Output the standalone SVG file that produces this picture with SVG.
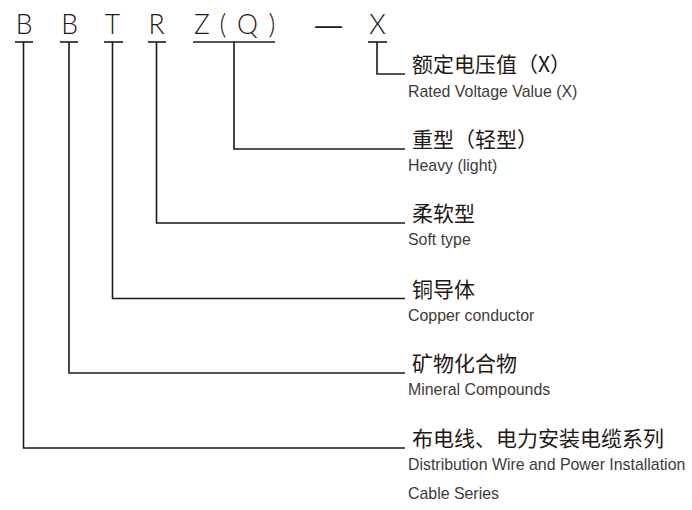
<svg xmlns="http://www.w3.org/2000/svg" width="692" height="510" viewBox="0 0 692 510">
<style>
.code{font-family:"Lato","Liberation Sans",Arial,sans-serif;font-weight:300;font-size:26.5px;fill:#231815;text-anchor:middle}
.dash{font-family:"Liberation Sans",Arial,sans-serif;font-size:27px;fill:#231815;text-anchor:middle}
.cn{font-family:"Noto Sans CJK SC","Noto Sans",sans-serif;font-size:21px;fill:#231815}
.en{font-family:"Liberation Sans",Arial,sans-serif;font-size:15.9px;fill:#3e3a39}
.ul{stroke:#231815;stroke-width:1.6;fill:none}
.conn{stroke:#231815;stroke-width:1.6;fill:none}
</style>
<rect width="692" height="510" fill="#ffffff"/>
<g id="code-B1">
<text class="code" x="24" y="34">B</text>
<line class="ul" x1="15" y1="42" x2="33" y2="42"/>
</g>
<g id="code-B2">
<text class="code" x="69.5" y="34">B</text>
<line class="ul" x1="60" y1="42" x2="78" y2="42"/>
</g>
<g id="code-T">
<text class="code" x="112.5" y="34">T</text>
<line class="ul" x1="104" y1="42" x2="123" y2="42"/>
</g>
<g id="code-R">
<text class="code" x="156.5" y="34">R</text>
<line class="ul" x1="148" y1="42" x2="166" y2="42"/>
</g>
<g id="code-ZQ">
<text class="code"><tspan x="202" y="34">Z</tspan><tspan x="223" y="34">(</tspan><tspan x="247.5" y="34">Q</tspan><tspan x="272" y="34">)</tspan></text>
<line class="ul" x1="193" y1="42" x2="275" y2="42"/>
</g>
<g id="code-dash">
<text class="dash" x="328.5" y="34">—</text>
</g>
<g id="code-X">
<text class="code" x="377.5" y="34">X</text>
<line class="ul" x1="368" y1="42" x2="387" y2="42"/>
</g>
<g id="connectors">
<path class="conn" d="M377 42 V74 H405"/>
<path class="conn" d="M234 42 V149 H405"/>
<path class="conn" d="M156.5 42 V223 H405"/>
<path class="conn" d="M112.5 42 V298.5 H405"/>
<path class="conn" d="M69 42 V373 H405"/>
<path class="conn" d="M23.5 42 V448 H405"/>
</g>
<g id="label-X">
<text class="cn" x="412" y="72">额定电压值（X）</text>
<text class="en" x="408" y="97">Rated Voltage Value (X)</text>
</g>
<g id="label-ZQ">
<text class="cn" x="412" y="147">重型（轻型）</text>
<text class="en" x="408" y="171">Heavy (light)</text>
</g>
<g id="label-R">
<text class="cn" x="412" y="221">柔软型</text>
<text class="en" x="408" y="245">Soft type</text>
</g>
<g id="label-T">
<text class="cn" x="412" y="297">铜导体</text>
<text class="en" x="408" y="321">Copper conductor</text>
</g>
<g id="label-B2">
<text class="cn" x="412" y="371">矿物化合物</text>
<text class="en" x="408" y="395">Mineral Compounds</text>
</g>
<g id="label-B1">
<text class="cn" x="412" y="446">布电线、电力安装电缆系列</text>
<text class="en" x="408" y="470">Distribution Wire and Power Installation</text>
<text class="en" x="408" y="499">Cable Series</text>
</g>
</svg>
